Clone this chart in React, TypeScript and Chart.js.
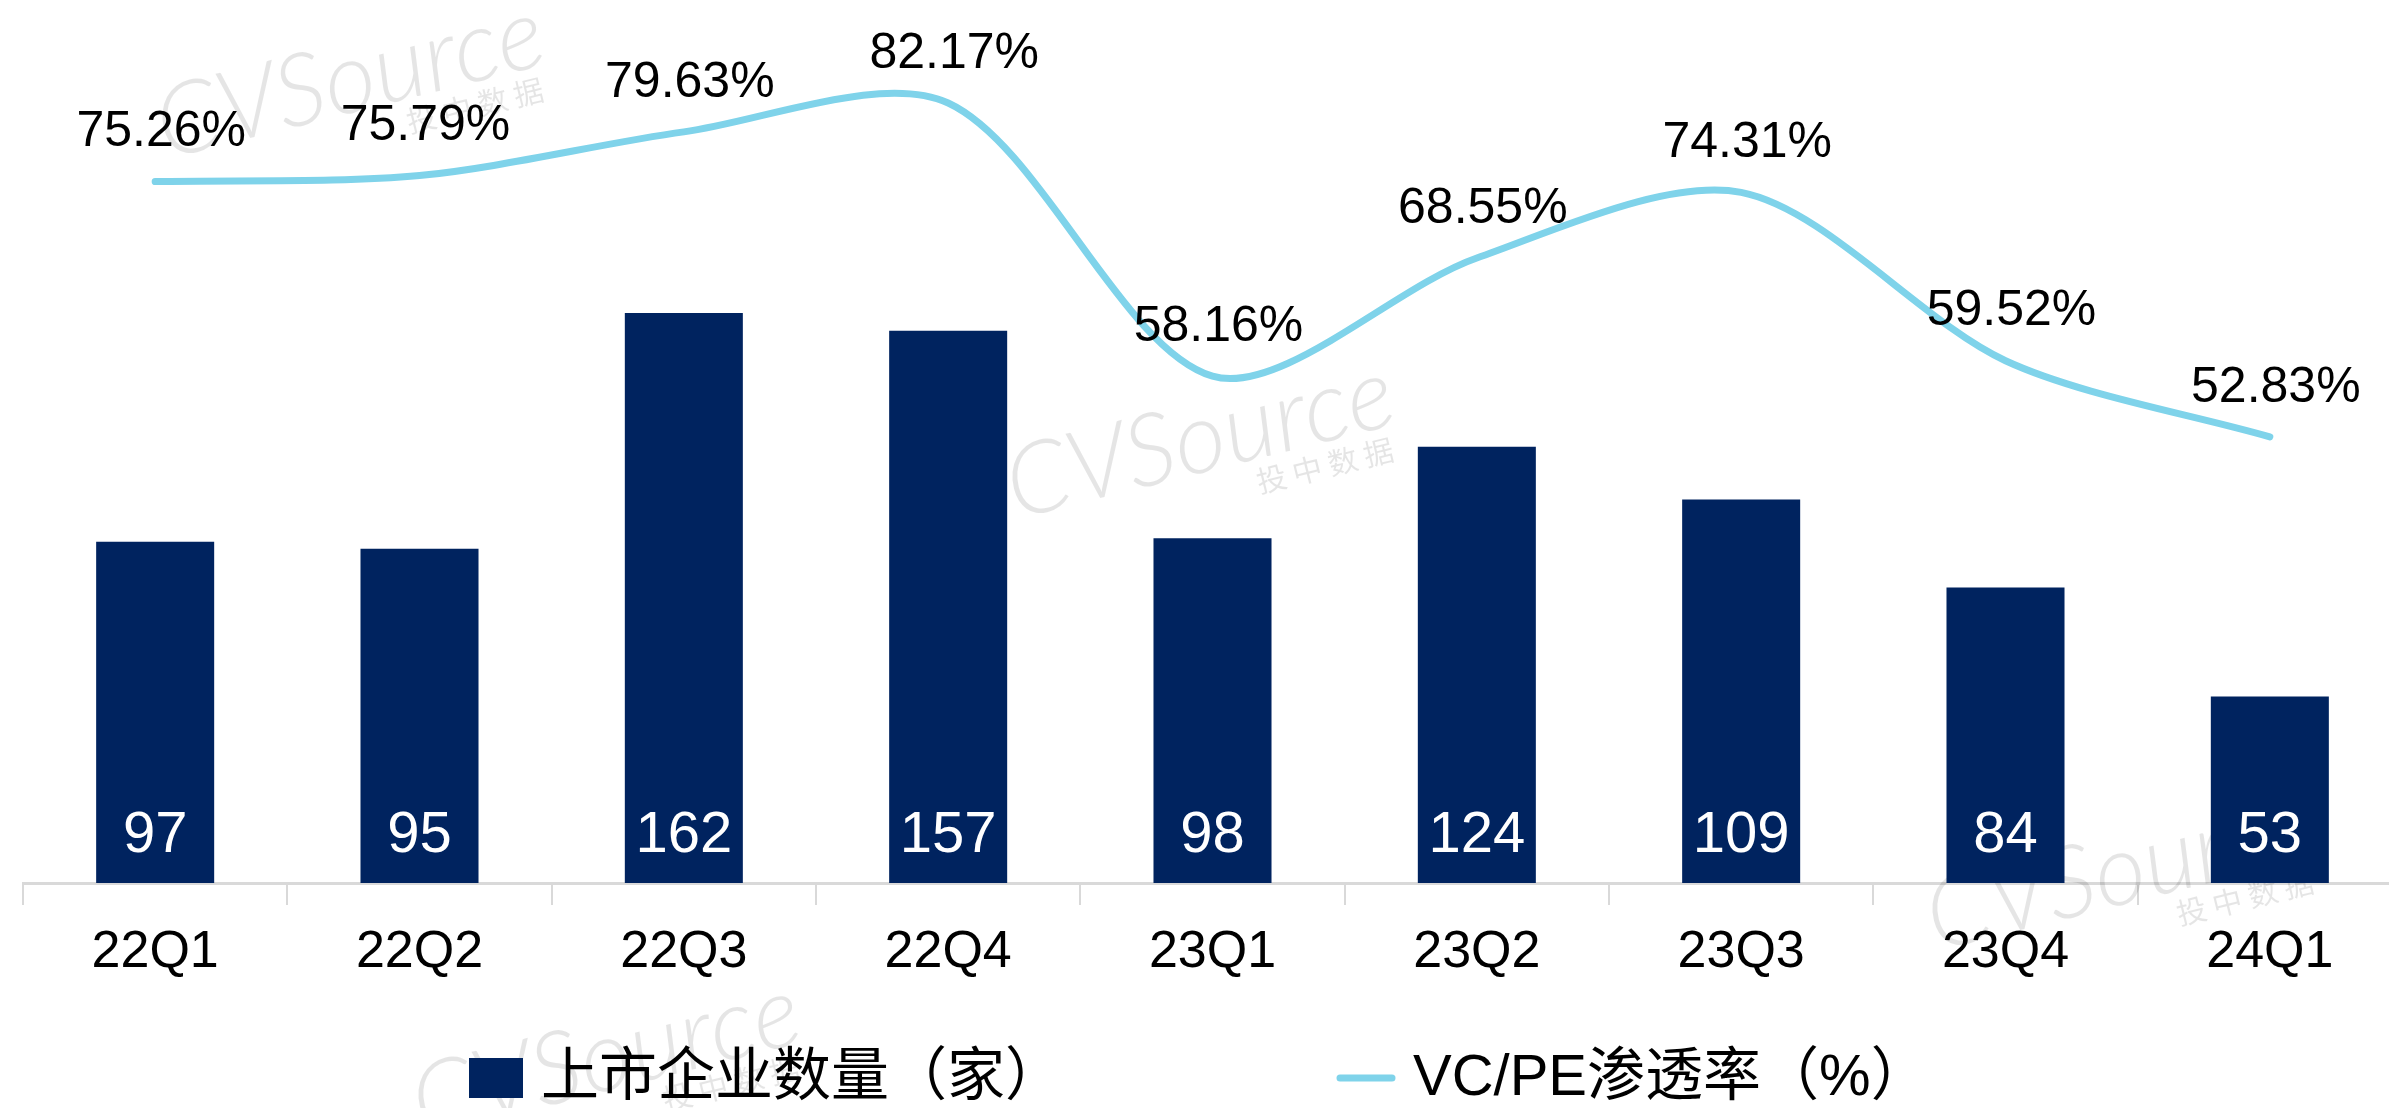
import React, { useEffect, useRef } from "react";
import { Chart, registerables } from "chart.js";

Chart.register(...registerables);

// ---- data ----
const categories = ["22Q1", "22Q2", "22Q3", "22Q4", "23Q1", "23Q2", "23Q3", "23Q4", "24Q1"];
const listedCounts = [97, 95, 162, 157, 98, 124, 109, 84, 53];
const vcpeRates = [75.26, 75.79, 79.63, 82.17, 58.16, 68.55, 74.31, 59.52, 52.83];
const seriesNames = ["上市企业数量（家）", "VC/PE渗透率（%）"];

// ---- styles ----
const BAR_COLOR = "#00235F";
const LINE_COLOR = "#7FD3EA";
const AXIS_COLOR = "#D9D9D9";
const CANVAS_W = 2402;
const CANVAS_H = 1108;
const PLOT_BOTTOM = 883;
const LATIN = "'Liberation Sans', Arial, 'Noto Sans CJK SC', sans-serif";

const watermarkPlugin = {
  id: "watermark",
  beforeDatasetsDraw(chart: any) {
    const ctx = chart.ctx;
    const marks = [
      [350, 80],
      [1200, 440],
      [2120, 872],
      [606, 1058],
    ];
    ctx.save();
    for (const [x, y] of marks) {
      ctx.save();
      ctx.translate(x, y);
      ctx.rotate((-14 * Math.PI) / 180);
      ctx.fillStyle = "rgba(0,0,0,0.10)";
      ctx.textAlign = "center";
      ctx.textBaseline = "middle";
      ctx.font = "italic 300 100px Lato, 'Open Sans', sans-serif";
      ctx.fillText("CVSource", 0, 0);
      ctx.font = "30px 'Noto Sans CJK SC', sans-serif";
      ctx.fillText("投 中 数 据", 115, 55);
      ctx.restore();
    }
    ctx.restore();
  },
};

const labelsPlugin = {
  id: "valueLabels",
  afterDatasetsDraw(chart: any) {
    const ctx = chart.ctx;
    ctx.save();
    ctx.textAlign = "center";
    ctx.textBaseline = "middle";
    const barMeta = chart.getDatasetMeta(0);
    ctx.fillStyle = "#FFFFFF";
    ctx.font = `58px ${LATIN}`;
    barMeta.data.forEach((el: any, i: number) => {
      ctx.fillText(String(listedCounts[i]), el.x, chart.chartArea.bottom - 47);
    });
    const lineMeta = chart.getDatasetMeta(1);
    ctx.fillStyle = "#000000";
    ctx.font = `50px ${LATIN}`;
    lineMeta.data.forEach((el: any, i: number) => {
      ctx.fillText(vcpeRates[i].toFixed(2) + "%", el.x + 6, el.y - 49);
    });
    ctx.restore();
  },
};

const legendPlugin = {
  id: "customLegend",
  afterDraw(chart: any) {
    const ctx = chart.ctx;
    ctx.save();
    ctx.fillStyle = BAR_COLOR;
    ctx.fillRect(469, 1058, 54, 40);
    ctx.strokeStyle = LINE_COLOR;
    ctx.lineWidth = 7;
    ctx.lineCap = "round";
    ctx.beginPath();
    ctx.moveTo(1340, 1078);
    ctx.lineTo(1392, 1078);
    ctx.stroke();
    ctx.fillStyle = "#000000";
    ctx.textAlign = "left";
    ctx.textBaseline = "middle";
    ctx.font = `58px ${LATIN}`;
    ctx.fillText(seriesNames[0], 541, 1079);
    ctx.fillText(seriesNames[1], 1413, 1079);
    ctx.restore();
  },
};

export default function App() {
  const ref = useRef<HTMLCanvasElement>(null);

  useEffect(() => {
    if (!ref.current) return;
    const chart = new Chart(ref.current, {
      type: "bar",
      data: {
        labels: categories,
        datasets: [
          {
            type: "bar",
            label: seriesNames[0],
            data: listedCounts,
            backgroundColor: BAR_COLOR,
            borderWidth: 0,
            barPercentage: 0.4465,
            categoryPercentage: 1,
            yAxisID: "y",
            order: 1,
          },
          {
            type: "line",
            label: seriesNames[1],
            data: vcpeRates,
            borderColor: LINE_COLOR,
            backgroundColor: LINE_COLOR,
            borderWidth: 7,
            borderCapStyle: "round",
            pointRadius: 0,
            tension: 0.3,
            fill: false,
            yAxisID: "y2",
            order: 0,
          },
        ] as any,
      },
      options: {
        responsive: false,
        animation: false,
        devicePixelRatio: 1,
        layout: { padding: { left: 23, right: 0, top: 0, bottom: 0 } },
        plugins: {
          legend: { display: false },
          tooltip: { enabled: false },
        },
        scales: {
          x: {
            offset: true,
            grid: {
              offset: true,
              drawOnChartArea: false,
              drawTicks: true,
              tickLength: 22,
              color: AXIS_COLOR,
              lineWidth: 2,
            },
            border: { display: true, color: AXIS_COLOR, width: 3 },
            ticks: {
              color: "#000000",
              font: { family: LATIN, size: 52 },
              padding: 16,
              maxRotation: 0,
              autoSkip: false,
            },
            afterFit: (scale: any) => {
              scale.height = CANVAS_H - PLOT_BOTTOM;
            },
          },
          y: { display: false, min: 0, max: 251 },
          y2: { display: false, min: 13.62, max: 91.22 },
        },
      } as any,
      plugins: [watermarkPlugin, labelsPlugin, legendPlugin],
    });
    return () => chart.destroy();
  }, []);

  return (
    <div
      style={{
        position: "absolute",
        left: 0,
        top: 0,
        width: 2389,
        height: 1108,
        overflow: "hidden",
        background: "#FFFFFF",
      }}
    >
      <canvas
        ref={ref}
        width={CANVAS_W}
        height={CANVAS_H}
        style={{ display: "block", width: CANVAS_W, height: CANVAS_H }}
      />
    </div>
  );
}
